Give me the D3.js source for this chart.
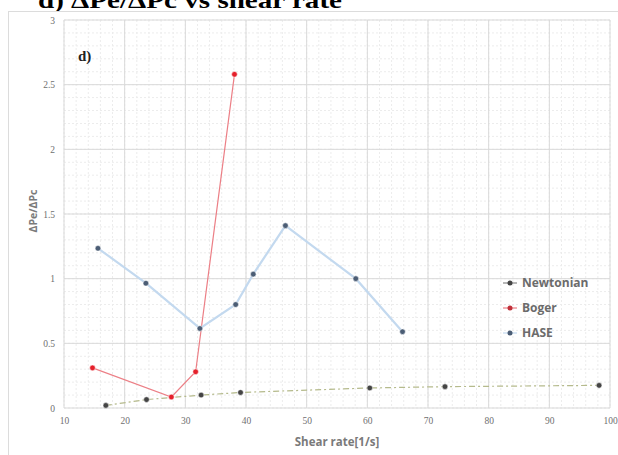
<!DOCTYPE html>
<html><head><meta charset="utf-8">
<script src="https://cdn.jsdelivr.net/npm/d3@7"></script>
<style>body{margin:0;background:#fff}svg{display:block}</style>
</head><body>
<svg id="c" width="618" height="455"></svg>
<script>
const xTicks = [10,20,30,40,50,60,70,80,90,100];
const yTicks = [0,0.5,1,1.5,2,2.5,3];
const yTickLabels = ["0","0.5","1","1.5","2","2.5","3"];
const newtonX = [16.9,23.6,32.6,39.1,60.4,72.8,98.2];
const newtonY = [0.02,0.065,0.1,0.12,0.155,0.165,0.175];
const bogerX = [14.7,27.7,31.7,38.1];
const bogerY = [0.31,0.085,0.28,2.58];
const haseX = [15.6,23.5,32.4,38.3,41.2,46.5,58.1,65.8];
const haseY = [1.235,0.965,0.615,0.80,1.035,1.41,1.0,0.59];
const seriesNames = ["Newtonian","Boger","HASE"];

const svg = d3.select("#c");
const x = d3.scaleLinear().domain([10,100]).range([64,610]);
const y = d3.scaleLinear().domain([0,3]).range([408,20]);

// title (cut off at top, as in the reference)
svg.append("text").attr("x",38).attr("y",8)
  .attr("font-family","Liberation Serif").attr("font-weight","bold").attr("font-size",24)
  .attr("textLength",304).attr("lengthAdjust","spacingAndGlyphs")
  .attr("fill","#000").text("d) ΔPe/ΔPc vs shear rate");

// chart frame
svg.append("rect").attr("x",8.5).attr("y",11.5).attr("width",612).attr("height",450)
  .attr("fill","#fff").attr("stroke","#dcdcdc");

// minor grid
const g = svg.append("g");
const minorX = d3.range(10,100.01,2);
const minorY = d3.range(0,3.001,0.1);
g.selectAll(".mx").data(minorX).join("line")
  .attr("x1",d=>x(d)).attr("x2",d=>x(d)).attr("y1",y(3)).attr("y2",y(0))
  .attr("stroke","#ececec").attr("stroke-dasharray","2,2");
g.selectAll(".my").data(minorY).join("line")
  .attr("x1",x(10)).attr("x2",x(100)).attr("y1",d=>y(d)).attr("y2",d=>y(d))
  .attr("stroke","#ececec").attr("stroke-dasharray","2,2");
// major grid
g.selectAll(".gx").data(xTicks).join("line")
  .attr("x1",d=>x(d)).attr("x2",d=>x(d)).attr("y1",y(3)).attr("y2",y(0))
  .attr("stroke","#d9d9d9");
g.selectAll(".gy").data(yTicks).join("line")
  .attr("x1",x(10)).attr("x2",x(100)).attr("y1",d=>y(d)).attr("y2",d=>y(d))
  .attr("stroke","#d9d9d9");

// axes labels
const xAxis = d3.axisBottom(x).tickValues(xTicks).tickSize(0).tickPadding(9);
const ya = svg.append("g").attr("transform",`translate(0,${y(0)})`).call(xAxis);
const yAxis = d3.axisLeft(y).tickValues(yTicks).tickSize(0).tickPadding(9).tickFormat((d,i)=>yTickLabels[i]);
const yb = svg.append("g").attr("transform",`translate(${x(10)},0)`).call(yAxis);
[ya,yb].forEach(a=>{a.select(".domain").remove();
  a.selectAll("text").attr("font-family","Liberation Serif").attr("font-size",9.5).attr("fill","#6f6f6f");});

svg.append("text").attr("x",337).attr("y",446).attr("text-anchor","middle")
  .attr("font-family","Open Sans").attr("font-weight","bold").attr("font-size",11.5)
  .attr("fill","#7a7a7a").text("Shear rate[1/s]");
svg.append("text").attr("transform","translate(37,211) rotate(-90)").attr("text-anchor","middle")
  .attr("font-family","Open Sans").attr("font-weight","bold").attr("font-size",10.5)
  .attr("fill","#7a7a7a").text("ΔPe/ΔPc");

svg.append("text").attr("x",78).attr("y",61)
  .attr("font-family","Liberation Serif").attr("font-weight","bold").attr("font-size",15)
  .attr("fill","#222").text("d)");

const series = [
  {name:seriesNames[0], xs:newtonX, ys:newtonY, line:"#b5ba8c", dash:"6,3,2,3", lw:1.2, pt:"#444444"},
  {name:seriesNames[1], xs:bogerX, ys:bogerY, line:"#ec7f86", dash:null, lw:1.2, pt:"#e5202b"},
  {name:seriesNames[2], xs:haseX, ys:haseY, line:"#c3d9ef", dash:null, lw:2.2, pt:"#4b5d75"}
];
const lineGen = d3.line().x(d=>x(d[0])).y(d=>y(d[1]));
series.forEach(s=>{
  const pts = s.xs.map((v,i)=>[v,s.ys[i]]);
  svg.append("path").attr("d",lineGen(pts)).attr("fill","none")
    .attr("stroke",s.line).attr("stroke-width",s.lw).attr("stroke-dasharray",s.dash);
});
series.forEach(s=>{
  const pts = s.xs.map((v,i)=>[v,s.ys[i]]);
  svg.selectAll(null).data(pts).join("circle")
    .attr("cx",d=>x(d[0])).attr("cy",d=>y(d[1])).attr("r",2.8)
    .attr("fill",s.pt).attr("stroke","#fff").attr("stroke-opacity",0.5).attr("stroke-width",1);
});

// legend
const lg = svg.append("g");
series.forEach((s,i)=>{
  const yy = 283 + i*25;
  lg.append("line").attr("x1",503).attr("x2",517).attr("y1",yy).attr("y2",yy)
    .attr("stroke",i===0?"#888":s.line).attr("stroke-width",1.2);
  lg.append("circle").attr("cx",510).attr("cy",yy).attr("r",2.5).attr("fill",i===1?"#c0303a":s.pt);
  lg.append("text").attr("x",522).attr("y",yy+4).attr("font-family","Open Sans")
    .attr("font-weight","bold").attr("font-size",12).attr("fill","#6b6b6b").text(s.name);
});
</script>
</body></html>
